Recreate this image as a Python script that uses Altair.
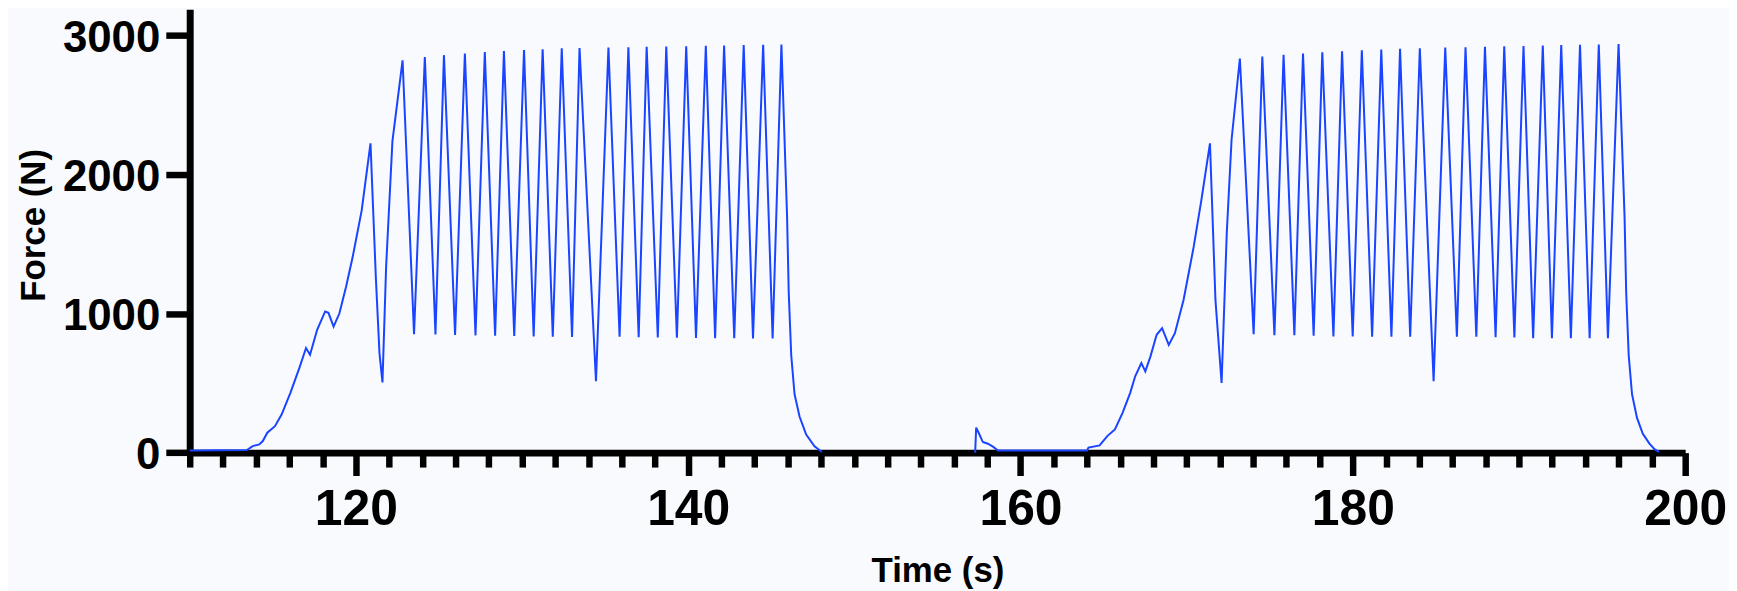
import altair as alt
import pandas as pd

# ---- data ----
run1_time = [110.0, 113.44, 113.79, 114.19, 114.40, 114.67, 115.13, 115.53, 116.06, 116.60,
             117.00, 117.24, 117.67, 118.15, 118.35, 118.66, 119.01, 119.41, 119.81, 120.35,
             120.88, 121.20, 121.42, 121.60, 121.82, 122.20, 122.81,
             123.50, 124.15, 124.79, 125.30, 125.97, 126.56, 127.20, 127.76, 128.38, 128.91,
             129.53, 130.12, 130.70, 131.24, 131.85, 132.39, 133.01, 133.46, 134.45, 135.20,
             135.87, 136.40, 137.02, 137.50, 138.17, 138.68, 139.32, 139.88, 140.47, 141.06,
             141.62, 142.16, 142.77, 143.34, 143.90, 144.51, 145.08, 145.61,
             145.95, 146.05, 146.20, 146.40, 146.70, 147.10, 147.60, 148.05]
run1_force = [15, 19, 47, 59, 83, 143, 190, 274, 430, 609,
              752, 704, 883, 1015, 1005, 906, 1002, 1193, 1408, 1742,
              2224, 1264, 716, 505, 1336, 2240, 2821,
              852, 2845, 850, 2858, 846, 2870, 843, 2880, 840, 2888,
              838, 2895, 835, 2900, 833, 2907, 832, 2910, 513, 2912,
              833, 2915, 830, 2918, 828, 2920, 826, 2922, 825, 2925,
              823, 2928, 822, 2930, 821, 2933, 821, 2935,
              1700, 1150, 700, 420, 260, 130, 45, 5]

run2_time = [157.27, 157.33, 157.48, 157.73, 158.03, 158.34, 158.64,
             164.00, 164.09, 164.76, 165.22, 165.68, 166.14, 166.60, 166.90,
             167.27, 167.51, 167.82, 168.19, 168.52, 168.92, 169.29, 169.81,
             170.42, 170.88, 171.40, 171.73, 172.10, 172.41, 172.70, 173.20,
             174.03, 174.55, 175.28, 175.83, 176.48, 177.00, 177.64, 178.16, 178.83, 179.35,
             179.99, 180.54, 181.16, 181.71, 182.32, 182.84, 183.45, 184.03, 184.86, 185.56,
             186.26, 186.78, 187.43, 187.95, 188.59, 189.11, 189.72, 190.27, 190.85, 191.43,
             191.98, 192.54, 193.12, 193.67, 194.25, 194.80, 195.35, 195.99,
             196.35, 196.45, 196.60, 196.80, 197.10, 197.45, 197.85, 198.15, 198.43]
run2_force = [0, 180, 143, 76, 64, 43, 15,
              15, 36, 52, 119, 167, 286, 430, 549,
              644, 584, 692, 847, 895, 775, 859, 1098,
              1479, 1814, 2224, 1098, 501, 1575, 2250, 2833,
              852, 2848, 845, 2860, 845, 2870, 840, 2878, 835, 2885,
              835, 2893, 833, 2898, 833, 2903, 833, 2908, 513, 2912,
              833, 2915, 833, 2918, 830, 2921, 828, 2924, 823, 2927,
              823, 2930, 823, 2932, 823, 2935, 823, 2938,
              1700, 1150, 700, 420, 250, 135, 65, 25, 5]

x_tick_values = list(range(110, 201, 2))
y_tick_values = [0, 1000, 2000, 3000]
x_domain = [110, 200]
y_domain = [0, 3188]

df = pd.DataFrame({
    "time": run1_time + run2_time,
    "force": run1_force + run2_force,
    "run": ["run 1"] * len(run1_time) + ["run 2"] * len(run2_time),
})

FONT = "Liberation Sans"
W, H = 1502, 445.3

x_axis = alt.Axis(
    title="Time (s)",
    values=x_tick_values,
    format="d",
    labelExpr="datum.value % 20 === 0 ? datum.label : ''",
    labelOverlap=False, labelFlush=False, labelBound=False,
    labelFont=FONT, labelFontSize=50, labelFontWeight="bold", labelColor="black",
    labelPadding=9,
    tickSize={"condition": {"test": "datum.value % 20 === 0", "value": 23}, "value": 14.5},
    tickWidth=6.5, tickColor="black",
    domainWidth=7, domainColor="black",
    grid=False,
    titleFont=FONT, titleFontSize=35, titleFontWeight="bold", titleColor="black",
    titleX=W / 2, titleY=129.7, titleBaseline="alphabetic", titleAlign="center", titleAngle=0,
)

y_axis = alt.Axis(
    title="Force (N)",
    values=y_tick_values,
    format="d",
    labelFont=FONT, labelFontSize=44, labelFontWeight="bold", labelColor="black",
    labelPadding=6, labelOffset=3,
    tickSize=24, tickWidth=6.5, tickColor="black",
    domainWidth=7, domainColor="black",
    grid=False,
    titleFont=FONT, titleFontSize=35, titleFontWeight="bold", titleColor="black",
    titleX=-145.5, titleY=216.5, titleAngle=270, titleBaseline="alphabetic", titleAlign="center",
)

chart = alt.Chart(df).mark_line(color="#1a44ff", strokeWidth=2).encode(
    x=alt.X("time:Q", scale=alt.Scale(domain=x_domain, nice=False, zero=False), axis=x_axis),
    y=alt.Y("force:Q", scale=alt.Scale(domain=y_domain, nice=False, zero=True), axis=y_axis),
    detail="run:N",
).properties(
    width=W, height=H,
    padding={"left": 182.5, "top": 0, "right": 44, "bottom": 138},
    autosize=alt.AutoSizeParams(type="none"),
    background="#f8fafe",
).configure_view(strokeWidth=0)

chart.save("out.html", embed_options={"renderer": "svg", "actions": False})
